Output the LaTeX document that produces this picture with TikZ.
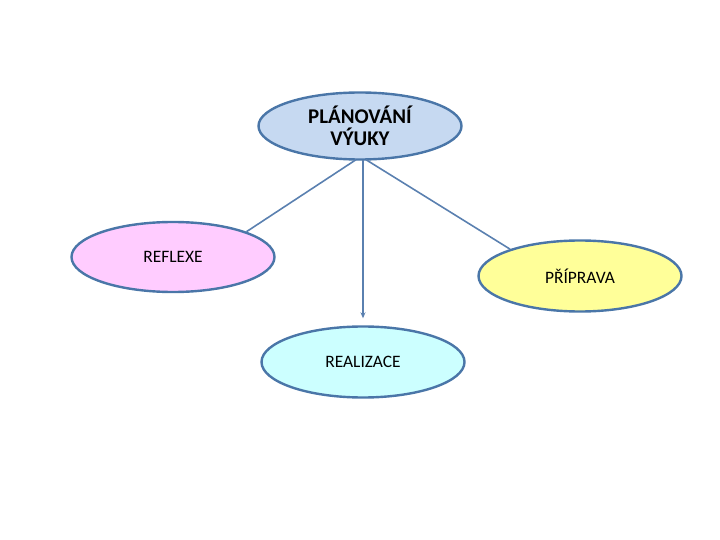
\documentclass[tikz,border=0pt]{standalone}
\usepackage{fontspec}
\setmainfont{Carlito}
\usepackage{tikz}
\usepackage{xcolor}
\usetikzlibrary{positioning, arrows.meta, shapes.geometric, calc}
\definecolor{cEdge}     {HTML}{4A76A8}
\definecolor{cLine}     {HTML}{5A80B0}
\definecolor{cPlan}     {HTML}{C6D9F1}
\definecolor{cReflexe}  {HTML}{FFCCFF}
\definecolor{cPriprava} {HTML}{FFFF99}
\definecolor{cRealizace}{HTML}{CCFFFF}

\begin{document}
\begin{tikzpicture}[x=1bp, y=-1bp,
    phase/.style={ellipse, draw=cEdge, line width=2.4bp, inner sep=0pt,
                  minimum width=203bp, minimum height=70bp,
                  font=\fontsize{17.5}{20}\selectfont, text=black},
    conn/.style={draw=cLine, line width=1.6bp}]
  \useasboundingbox (0,0) rectangle (720,540);
  \node[phase, fill=cPlan, minimum height=67bp, align=center,
        font=\fontsize{21}{22}\selectfont\bfseries] (plan) at (360,126)
        {PLÁNOVÁNÍ\\VÝUKY};
  \node[phase, fill=cReflexe] (reflexe) at (173,257) {REFLEXE};
  \node[phase, fill=cPriprava, minimum height=71bp] (priprava) at (580,276) {PŘÍPRAVA};
  \node[phase, fill=cRealizace, minimum height=71bp] (realizace) at (363,362) {REALIZACE};
  % spojnice
  \draw[conn] ([xshift=-4bp, yshift=1bp]plan.south) -- (reflexe.19);
  \draw[conn] ([xshift=6bp, yshift=1bp]plan.south) -- (priprava.159);
  \draw[conn, -{Stealth[length=6bp, width=5bp]}, shorten >=7bp]
    ([yshift=1bp]plan.south -| realizace.north) -- (realizace.north);
\end{tikzpicture}
\end{document}
